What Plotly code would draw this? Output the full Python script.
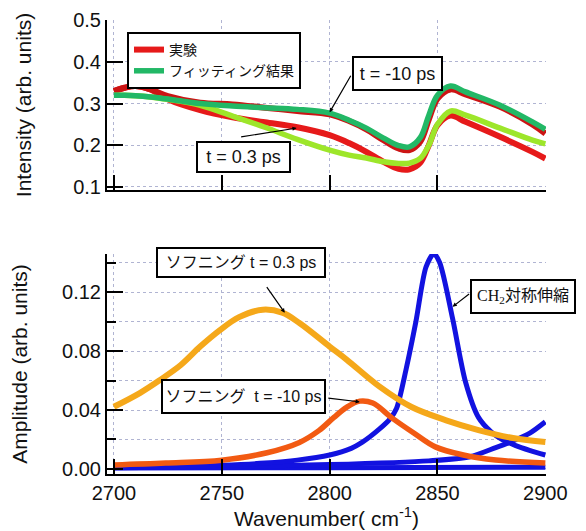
import plotly.graph_objects as go

# ---------------- data: top panel (Intensity) ----------------
wn_top = [2700, 2705, 2710, 2717, 2725, 2740, 2755, 2770, 2785, 2800, 2809, 2817,
          2825, 2832, 2837, 2842, 2846, 2850, 2856, 2863, 2879, 2894, 2900]
exp_t03 = [0.330, 0.338, 0.342, 0.334, 0.310, 0.284, 0.267, 0.255, 0.243, 0.224, 0.205, 0.184,
           0.160, 0.143, 0.142, 0.158, 0.200, 0.248, 0.271, 0.256, 0.220, 0.184, 0.168]
exp_tm10 = [0.330, 0.338, 0.342, 0.334, 0.318, 0.302, 0.298, 0.290, 0.282, 0.274, 0.258, 0.238,
            0.212, 0.192, 0.188, 0.208, 0.262, 0.312, 0.334, 0.322, 0.292, 0.250, 0.228]
fit_tm10 = [0.320, 0.320, 0.319, 0.316, 0.311, 0.300, 0.294, 0.290, 0.286, 0.277, 0.260, 0.241,
            0.217, 0.199, 0.196, 0.218, 0.272, 0.320, 0.342, 0.328, 0.296, 0.256, 0.238]
fit_t03 = [0.320, 0.320, 0.319, 0.316, 0.310, 0.296, 0.270, 0.243, 0.214, 0.188, 0.176, 0.169,
           0.160, 0.156, 0.157, 0.168, 0.200, 0.250, 0.282, 0.272, 0.241, 0.212, 0.203]

# ---------------- data: bottom panel (Amplitude) ----------------
wn_soft03 = [2700, 2712, 2721, 2731, 2740, 2749, 2758, 2769, 2778, 2786, 2800, 2808,
             2823, 2838, 2854, 2869, 2885, 2900]
soft_t03 = [0.0422, 0.0515, 0.0600, 0.0705, 0.0830, 0.0940, 0.1030, 0.1080, 0.1060, 0.0990,
            0.0830, 0.0740, 0.0560, 0.0420, 0.0330, 0.0264, 0.0210, 0.0183]

wn_softm10 = [2700, 2724, 2750, 2771, 2786, 2795, 2802, 2808, 2814, 2820, 2829,
              2839, 2849, 2862, 2877, 2900]
soft_tm10 = [0.0027, 0.0040, 0.0060, 0.0110, 0.0180, 0.0260, 0.0350, 0.0420, 0.0460,
             0.0447, 0.0345, 0.0244, 0.0150, 0.0095, 0.0061, 0.0040]

wn_ch2 = [2700, 2730, 2750, 2770, 2785, 2800, 2810, 2815, 2823, 2828, 2831, 2835.5, 2840,
          2844.7, 2848.3, 2851, 2857, 2863, 2869, 2875, 2880, 2886, 2893, 2900]
ch2_sym = [0.0010, 0.0016, 0.0025, 0.0040, 0.0060, 0.0095, 0.0140, 0.0180, 0.0270, 0.0340,
           0.0410, 0.0680, 0.1000, 0.1370, 0.1460, 0.1400, 0.1020, 0.0590, 0.0350, 0.0250,
           0.0200, 0.0160, 0.0125, 0.0095]

wn_high = [2700, 2750, 2800, 2846, 2865, 2877, 2885, 2893, 2900]
band_high = [0.0008, 0.0015, 0.0030, 0.0055, 0.0083, 0.0145, 0.0190, 0.0245, 0.0320]

wn_base = [2700, 2800, 2900]
band_base = [0.0006, 0.0009, 0.0012]

# ---------------- styling ----------------
FONT = "Liberation Sans, Arial, Noto Sans CJK JP, sans-serif"
RED = "#e61a1a"
RED_D = "#cc1414"
GREEN_D = "#22b866"
GREEN_L = "#9de62a"
ORANGE = "#f5a81a"
ORANGE_R = "#f25a12"
BLUE = "#1212e0"
GRID = "#b0b4d2"

fig = go.Figure()

# top panel traces
fig.add_trace(go.Scatter(x=wn_top, y=exp_t03, mode="lines", line=dict(color=RED, width=6, shape="spline"),
                         name="実験", showlegend=True, xaxis="x", yaxis="y"))
fig.add_trace(go.Scatter(x=wn_top, y=exp_tm10, mode="lines", line=dict(color=RED_D, width=6, shape="spline"),
                         showlegend=False, xaxis="x", yaxis="y"))
fig.add_trace(go.Scatter(x=wn_top, y=fit_t03, mode="lines", line=dict(color=GREEN_L, width=5.5, shape="spline"),
                         showlegend=False, xaxis="x", yaxis="y"))
fig.add_trace(go.Scatter(x=wn_top, y=fit_tm10, mode="lines", line=dict(color=GREEN_D, width=5.5, shape="spline"),
                         name="フィッティング結果", showlegend=True, xaxis="x", yaxis="y"))

# bottom panel traces
for xs, ys in [(wn_base, band_base), (wn_high, band_high), (wn_ch2, ch2_sym)]:
    fig.add_trace(go.Scatter(x=xs, y=ys, mode="lines",
                             line=dict(color=BLUE, width=5, shape="spline", smoothing=0.8),
                             showlegend=False, xaxis="x2", yaxis="y2"))
fig.add_trace(go.Scatter(x=wn_softm10, y=soft_tm10, mode="lines",
                         line=dict(color=ORANGE_R, width=5.5, shape="spline", smoothing=1.0),
                         showlegend=False, xaxis="x2", yaxis="y2"))
fig.add_trace(go.Scatter(x=wn_soft03, y=soft_t03, mode="lines",
                         line=dict(color=ORANGE, width=6, shape="spline", smoothing=1.0),
                         showlegend=False, xaxis="x2", yaxis="y2"))

axis_common = dict(
    ticks="inside", tickcolor="black", tickwidth=2, ticklen=15,
    showline=True, linecolor="black", linewidth=2, mirror=False,
    showgrid=True, gridcolor=GRID, gridwidth=1, griddash="3px,3px",
    zeroline=False, automargin=False,
    tickfont=dict(family=FONT, size=20, color="#111111"),
)

xticks = [2700, 2750, 2800, 2850, 2900]

# page body has an 8 px margin, so the figure is 8 px smaller and shifted
fig.update_layout(
    width=578, height=523,
    margin=dict(l=99, r=40, t=12, b=57, autoexpand=False),
    paper_bgcolor="white", plot_bgcolor="white",
    font=dict(family=FONT, color="#111111"),
    xaxis=dict(axis_common, domain=[0, 1], range=[2696.8, 2900.3], tickvals=xticks,
               showticklabels=False, anchor="y"),
    yaxis=dict(axis_common, domain=[0.6256, 1.0], range=[0.0923, 0.5008],
               tickvals=[0.1, 0.2, 0.3, 0.4, 0.5], tickformat=".1f", ticklen=16, anchor="x",
               title=dict(text="Intensity (arb. units)", font=dict(family=FONT, size=21), standoff=36)),
    xaxis2=dict(axis_common, domain=[0, 1], range=[2696.8, 2900.3], tickvals=xticks,
                anchor="y2",
                title=dict(text="Wavenumber( cm<sup>-1</sup>)", font=dict(family=FONT, size=21), standoff=6)),
    yaxis2=dict(axis_common, domain=[0, 0.4846], range=[-0.0034, 0.1458],
                tickvals=[0.0, 0.04, 0.08, 0.12], tickformat=".2f", ticklen=16, anchor="x2",
                minor=dict(tickvals=[0.02, 0.06, 0.10, 0.14], ticks="inside", ticklen=9,
                           tickcolor="black", tickwidth=2, showgrid=True, gridcolor=GRID,
                           griddash="3px,3px", gridwidth=1),
                title=dict(text="Amplitude (arb. units)", font=dict(family=FONT, size=21), standoff=36)),
    legend=dict(x=0.0456, y=0.9736, xanchor="left", yanchor="top",
                bgcolor="white", bordercolor="black", borderwidth=2,
                font=dict(family=FONT, size=14, color="#111111"),
                itemwidth=30, tracegroupgap=0),
)

box = dict(showarrow=False, xref="paper", yref="paper", bgcolor="white",
           bordercolor="black", borderwidth=2, borderpad=2, xanchor="center", yanchor="middle")

fig.add_annotation(box, text="t = -10 ps", x=0.6617, y=0.8821, width=83, height=27,
                   font=dict(family=FONT, size=18, color="#111111"))
fig.add_annotation(box, text="t = 0.3 ps", x=0.3109, y=0.6982, width=87, height=24,
                   font=dict(family=FONT, size=18, color="#111111"))
fig.add_annotation(box, text="ソフニング t = 0.3 ps", x=0.3052, y=0.4659, width=162, height=23,
                   font=dict(family=FONT, size=16, color="#111111"))
fig.add_annotation(box, text="ソフニング\u00a0 t = -10 ps", x=0.3109, y=0.1707, width=157, height=27,
                   font=dict(family=FONT, size=16, color="#111111"))
fig.add_annotation(box, text='<span style="font-family:Liberation Serif">CH<sub>2</sub></span>対称伸縮',
                   x=0.9465, y=0.391, width=98, height=27,
                   font=dict(family="Liberation Serif, Noto Sans CJK JP, serif", size=16, color="#111111"))

arrow = dict(text="", showarrow=True, arrowhead=2, arrowsize=0.7, arrowwidth=1.2,
             arrowcolor="black", axref="pixel", ayref="pixel", standoff=0)
fig.add_annotation(arrow, xref="x", yref="y", x=2800, y=0.279, ax=22, ay=-38)
fig.add_annotation(arrow, xref="x", yref="y", x=2784.7, y=0.241, ax=-57, ay=9)
fig.add_annotation(arrow, xref="x2", yref="y2", x=2779.2, y=0.106, ax=-19, ay=-27)
fig.add_annotation(arrow, xref="x2", yref="y2", x=2814, y=0.0455, ax=-33, ay=-4)
fig.add_annotation(arrow, xref="x2", yref="y2", x=2857, y=0.110, ax=18, ay=-14)

fig.write_html("out.html")
